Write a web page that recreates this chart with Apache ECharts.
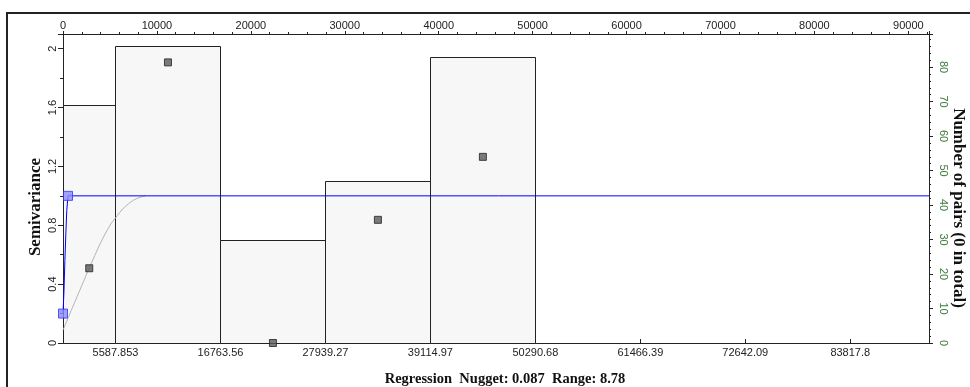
<!DOCTYPE html>
<html>
<head>
<meta charset="utf-8">
<script src="https://cdn.jsdelivr.net/npm/echarts@6/dist/echarts.min.js"></script>
<style>
html,body{margin:0;padding:0;background:#fff;overflow:hidden;}
#c{width:970px;height:387px;}
</style>
</head>
<body>
<div id="c"></div>
<script>
// ---- data ----
var binEdges = [0, 5587.853, 16763.56, 27939.27, 39114.97, 50290.68];
var pairCounts = [69, 86, 30, 47, 83];
var lagCenters = [2794, 11176, 22351, 33527, 44703];
var semivariance = [0.508, 1.907, 0.0, 0.837, 1.265];
var bottomTicks = [5587.853, 16763.56, 27939.27, 39114.97, 50290.68, 61466.39, 72642.09, 83817.8];
var modelX = [0, 1000, 2000, 2794, 4000, 5000, 5588, 6500, 7500, 8200, 8780];
var modelY = [0.087, 0.24, 0.39, 0.51, 0.68, 0.80, 0.85, 0.92, 0.97, 0.99, 1.0];
var fitX = [0, 100, 200, 300, 400, 530, 92200];
var fitY = [0.2, 0.35, 0.56, 0.74, 0.9, 1.0, 1.0];
var handleX = [0, 530];
var handleY = [0.2, 1.0];
var xMax = 92200;
var leftMax = 2.1;
var rightMax = 89.6;
var titleLeft = 'Semivariance';
var titleRight = 'Number of pairs (0 in total)';
var titleBottom = 'Regression  Nugget: 0.087  Range: 8.78';

var sans = 'Liberation Sans';
var serif = 'Liberation Serif';

function zip(a, b) { return a.map(function (v, i) { return [v, b[i]]; }); }

var barData = pairCounts.map(function (c, i) { return [binEdges[i], binEdges[i + 1], c]; });

var chart = echarts.init(document.getElementById('c'), null, { renderer: 'canvas', width: 970, height: 387 });
chart.setOption({
  backgroundColor: '#ffffff',
  animation: false,
  grid: { left: 63, top: 34, width: 866, height: 309, containLabel: false, outerBoundsMode: 'none' },
  graphic: [
    { type: 'rect', shape: { x: 7, y: 13, width: 1000, height: 420 }, style: { fill: 'none', stroke: '#222', lineWidth: 2 }, silent: true, z: 100 },
    { type: 'text', x: 505, y: 379, style: { text: titleBottom, font: 'bold 14.5px "Liberation Serif"', fill: '#111', textAlign: 'center', textVerticalAlign: 'middle' } },
    { type: 'text', x: 36, y: 207, rotation: Math.PI / 2, style: { text: titleLeft, font: 'bold 17px "Liberation Serif"', fill: '#111', textAlign: 'center', textVerticalAlign: 'middle' } },
    { type: 'text', x: 958, y: 208, rotation: -Math.PI / 2, style: { text: titleRight, font: 'bold 17px "Liberation Serif"', fill: '#111', textAlign: 'center', textVerticalAlign: 'middle' } }
  ],
  xAxis: [
    {
      type: 'value', position: 'top', min: 0, max: xMax, interval: 10000,
      axisLine: { show: true, onZero: false, lineStyle: { color: '#222', width: 1 } },
      axisTick: { show: true, length: 3, inside: false, lineStyle: { color: '#222' } },
      minorTick: { show: true, splitNumber: 5, length: 2, lineStyle: { color: '#222' } },
      axisLabel: { color: '#222', fontFamily: sans, fontSize: 11, margin: 3, showMaxLabel: false,
        formatter: function (v) { return String(v); } },
      splitLine: { show: false }
    },
    {
      type: 'value', position: 'bottom', min: 0, max: xMax,
      axisLine: { show: true, onZero: false, lineStyle: { color: '#222', width: 1 } },
      axisTick: { show: false },
      minorTick: { show: false },
      axisLabel: { color: '#222', fontFamily: sans, fontSize: 11, margin: 4, customValues: bottomTicks,
        formatter: function (v) { var s = bottomTicks.find(function (t) { return Math.abs(t - v) < 0.01; }); return String(s !== undefined ? s : v); } },
      splitLine: { show: false }
    }
  ],
  yAxis: [
    {
      type: 'value', position: 'left', min: 0, max: leftMax, interval: 0.4,
      axisLine: { show: true, onZero: false, lineStyle: { color: '#222' } },
      axisTick: { show: true, length: 5, lineStyle: { color: '#222' } },
      minorTick: { show: true, splitNumber: 2, length: 3, lineStyle: { color: '#222' } },
      axisLabel: { rotate: 90, color: '#222', fontFamily: sans, fontSize: 11, margin: 5, showMaxLabel: false,
        formatter: function (v) { return String(Math.round(v * 10) / 10); } },
      splitLine: { show: false }
    },
    {
      type: 'value', position: 'right', min: 0, max: rightMax, interval: 10,
      axisLine: { show: true, onZero: false, lineStyle: { color: '#222' } },
      axisTick: { show: true, length: 4, lineStyle: { color: '#222' } },
      minorTick: { show: true, splitNumber: 5, length: 2, lineStyle: { color: '#222' } },
      axisLabel: { rotate: -90, color: '#3d7a3d', fontFamily: sans, fontSize: 11, margin: 9, showMaxLabel: false },
      splitLine: { show: false }
    }
  ],
  series: [
    {
      type: 'custom', xAxisIndex: 1, yAxisIndex: 1, z: 1,
      data: barData,
      renderItem: function (params, api) {
        var p0 = api.coord([api.value(0), api.value(2)]);
        var p1 = api.coord([api.value(1), 0]);
        return {
          type: 'rect',
          shape: { x: Math.round(p0[0]) + 0.5, y: Math.round(p0[1]) + 0.5, width: Math.round(p1[0] - p0[0]), height: Math.round(p1[1] - p0[1]) },
          style: { fill: '#f7f7f7', stroke: '#222', lineWidth: 1 }
        };
      }
    },
    {
      type: 'custom', xAxisIndex: 1, yAxisIndex: 1, z: 2, silent: true,
      data: bottomTicks.map(function (t) { return [t, 0]; }),
      renderItem: function (params, api) {
        var p = api.coord([api.value(0), 0]);
        var x = Math.round(p[0]) + 0.5;
        return { type: 'line', shape: { x1: x, y1: p[1], x2: x, y2: p[1] - 4 }, style: { stroke: '#222', lineWidth: 1 } };
      }
    },
    {
      type: 'line', xAxisIndex: 1, yAxisIndex: 0, z: 3,
      data: zip(modelX, modelY), smooth: 0.3, symbol: 'none',
      lineStyle: { color: '#b4b4b4', width: 1 }
    },
    {
      type: 'line', xAxisIndex: 1, yAxisIndex: 0, z: 4,
      data: zip(fitX, fitY), symbol: 'none',
      lineStyle: { color: '#0000ff', width: 1 }
    },
    {
      type: 'scatter', xAxisIndex: 1, yAxisIndex: 0, z: 5,
      data: zip(lagCenters, semivariance), symbol: 'rect', symbolSize: 7,
      itemStyle: { color: '#5a5a5a', borderColor: '#222', borderWidth: 1 }
    },
    {
      type: 'scatter', xAxisIndex: 1, yAxisIndex: 0, z: 6,
      data: zip(handleX, handleY), symbol: 'rect', symbolSize: 9,
      itemStyle: { color: '#8c8cff', borderColor: '#3030ff', borderWidth: 1 }
    }
  ]
});
</script>
</body>
</html>
